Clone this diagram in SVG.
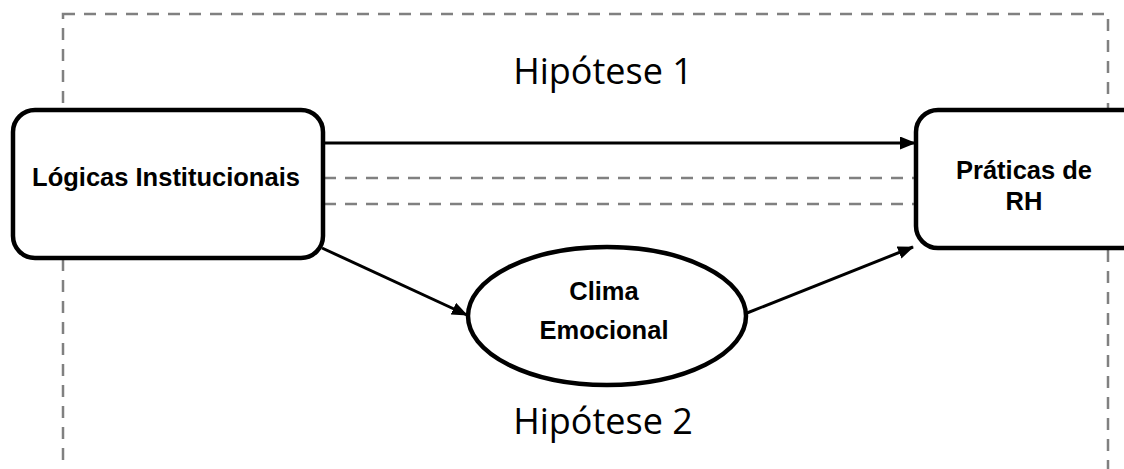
<svg xmlns="http://www.w3.org/2000/svg" width="1124" height="469" viewBox="0 0 1124 469">
<style>
.frame{fill:none;stroke:#808080;stroke-width:2.5;stroke-dasharray:12 9}
.dash{fill:none;stroke:#808080;stroke-width:2.5;stroke-dasharray:12 9}
.node{fill:#fff;stroke:#000;stroke-width:4.5}
.arrow{fill:none;stroke:#000;stroke-width:3;marker-end:url(#ah)}
.lbl{font-family:"Liberation Sans",Arial,sans-serif;font-weight:bold;font-size:25.5px;fill:#000;text-anchor:middle}
.hyp{font-family:"Open Sans","Liberation Sans",sans-serif;font-size:36px;fill:#000;text-anchor:middle}
</style>
<defs>
<marker id="ah" markerWidth="16" markerHeight="13" refX="15" refY="6.5" orient="auto" markerUnits="userSpaceOnUse">
<path d="M0,0 L16,6.5 L0,13 Z" fill="#000"/>
</marker>
</defs>
<rect class="frame" x="63" y="14" width="1045" height="480"/>
<text class="hyp" x="603" y="84">Hipótese 1</text>
<text class="hyp" x="603" y="434">Hipótese 2</text>
<g id="connectors">
<line class="arrow" x1="324" y1="143" x2="915" y2="143"/>
<line class="dash" x1="324" y1="178" x2="916" y2="178"/>
<line class="dash" x1="324" y1="204" x2="916" y2="204"/>
<line class="arrow" x1="322" y1="248" x2="467" y2="315"/>
<line class="arrow" x1="747" y1="313" x2="913" y2="247"/>
</g>
<g id="logicas">
<rect class="node" x="13" y="110" width="310" height="148" rx="22"/>
<text class="lbl" x="166" y="186">Lógicas Institucionais</text>
</g>
<g id="praticas">
<rect class="node" x="916" y="110" width="230" height="138" rx="22"/>
<text class="lbl" x="1024" y="179">Práticas de</text>
<text class="lbl" x="1024" y="210">RH</text>
</g>
<g id="clima">
<ellipse class="node" cx="607" cy="316" rx="139" ry="69"/>
<text class="lbl" x="604" y="300">Clima</text>
<text class="lbl" x="604" y="339">Emocional</text>
</g>
</svg>
